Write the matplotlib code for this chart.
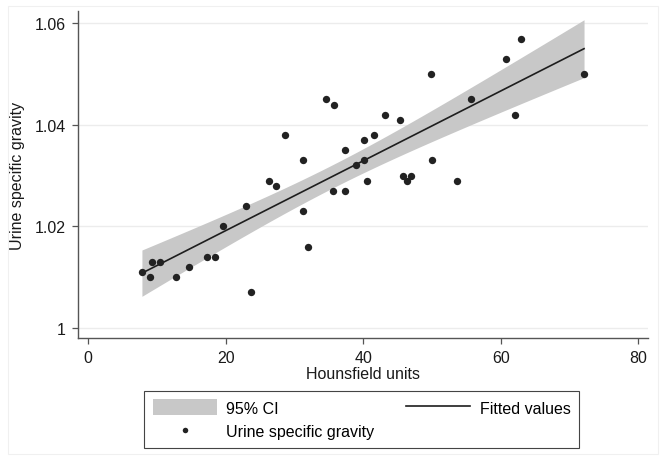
import numpy as np
import matplotlib.pyplot as plt

plt.rcParams['font.family'] = ['Liberation Sans', 'DejaVu Sans']

# data
hu = [7.8, 9.0, 9.3, 10.5, 12.7, 14.7, 17.3, 18.5, 19.6, 23.0,
      23.6, 26.3, 27.3, 28.6, 31.2, 31.2, 31.9, 34.5, 35.8, 35.6,
      37.4, 37.4, 39.0, 40.1, 40.1, 40.5, 41.6, 43.2, 45.4, 45.7,
      46.9, 46.4, 49.9, 50.0, 53.6, 55.6, 60.8, 62.9, 62.1, 72.1]
usg = [1.011, 1.010, 1.013, 1.013, 1.010, 1.012, 1.014, 1.014, 1.020, 1.024,
       1.007, 1.029, 1.028, 1.038, 1.033, 1.023, 1.016, 1.045, 1.044, 1.027,
       1.035, 1.027, 1.032, 1.037, 1.033, 1.029, 1.038, 1.042, 1.041, 1.030,
       1.030, 1.029, 1.050, 1.033, 1.029, 1.045, 1.053, 1.057, 1.042, 1.050]

x_ticks = [0, 20, 40, 60, 80]
y_ticks = [1.00, 1.02, 1.04, 1.06]
y_tick_labels = ['1', '1.02', '1.04', '1.06']

# linear fit with 95% CI of the mean (like Stata lfitci)
x = np.array(hu)
y = np.array(usg)
n = len(x)
b1, b0 = np.polyfit(x, y, 1)
resid = y - (b0 + b1 * x)
s = np.sqrt(np.sum(resid ** 2) / (n - 2))
t_crit = 2.0244  # t(0.975, df=38)
xg = np.linspace(x.min(), x.max(), 200)
yg = b0 + b1 * xg
se = s * np.sqrt(1 / n + (xg - x.mean()) ** 2 / np.sum((x - x.mean()) ** 2))

fig = plt.figure(figsize=(6.67, 4.64), dpi=100)
ax = fig.add_axes([0.1165, 0.2694, 0.855, 0.7047])

# faint outer frame of the graph region
fig.patches.append(plt.Rectangle((8 / 667, 1 - 455 / 464), 650 / 667, 448 / 464,
                                 transform=fig.transFigure, fill=False,
                                 edgecolor='#f0f0f0', linewidth=0.8))

ci = ax.fill_between(xg, yg - t_crit * se, yg + t_crit * se, color='#c8c8c8',
                     linewidth=0, label='95% CI', zorder=2)
line, = ax.plot(xg, yg, color='#1e1e1e', linewidth=1.2, label='Fitted values', zorder=3)
pts = ax.scatter(x, y, s=28, color='#222222', linewidths=0, label='Urine specific gravity', zorder=4)

ax.set_xlim(-1.54, 81.4)
ax.set_ylim(0.99803, 1.06242)
ax.set_xticks(x_ticks)
ax.set_yticks(y_ticks)
ax.set_yticklabels(y_tick_labels)
ax.grid(axis='y', color='#ececec', linewidth=1.0, zorder=0)
ax.set_axisbelow(True)

for side in ['top', 'right']:
    ax.spines[side].set_visible(False)
for side in ['left', 'bottom']:
    ax.spines[side].set_color('#555555')
    ax.spines[side].set_linewidth(1.0)
ax.tick_params(colors='#555555', length=4.5, width=0.9, labelsize=11.5,
               labelcolor='#1a1a1a', pad=4)

ax.set_xlabel('Hounsfield units', fontsize=11.5, color='#1a1a1a', labelpad=1)
ax.set_ylabel('Urine specific gravity', fontsize=11.5, color='#1a1a1a', labelpad=7)

leg = fig.legend(handles=[ci, pts, line], ncol=2, loc='upper left',
                 bbox_to_anchor=(144 / 667, 1 - 391.7 / 464), borderaxespad=0,
                 fontsize=11.5, frameon=True, fancybox=False, framealpha=1,
                 edgecolor='#444444', handlelength=4.0, handleheight=1.1,
                 handletextpad=0.6, columnspacing=2.0, labelspacing=0.45,
                 borderpad=0.55, markerscale=0.75)
leg.get_frame().set_linewidth(0.8)

fig.savefig('out.png', dpi=100, facecolor='white')
